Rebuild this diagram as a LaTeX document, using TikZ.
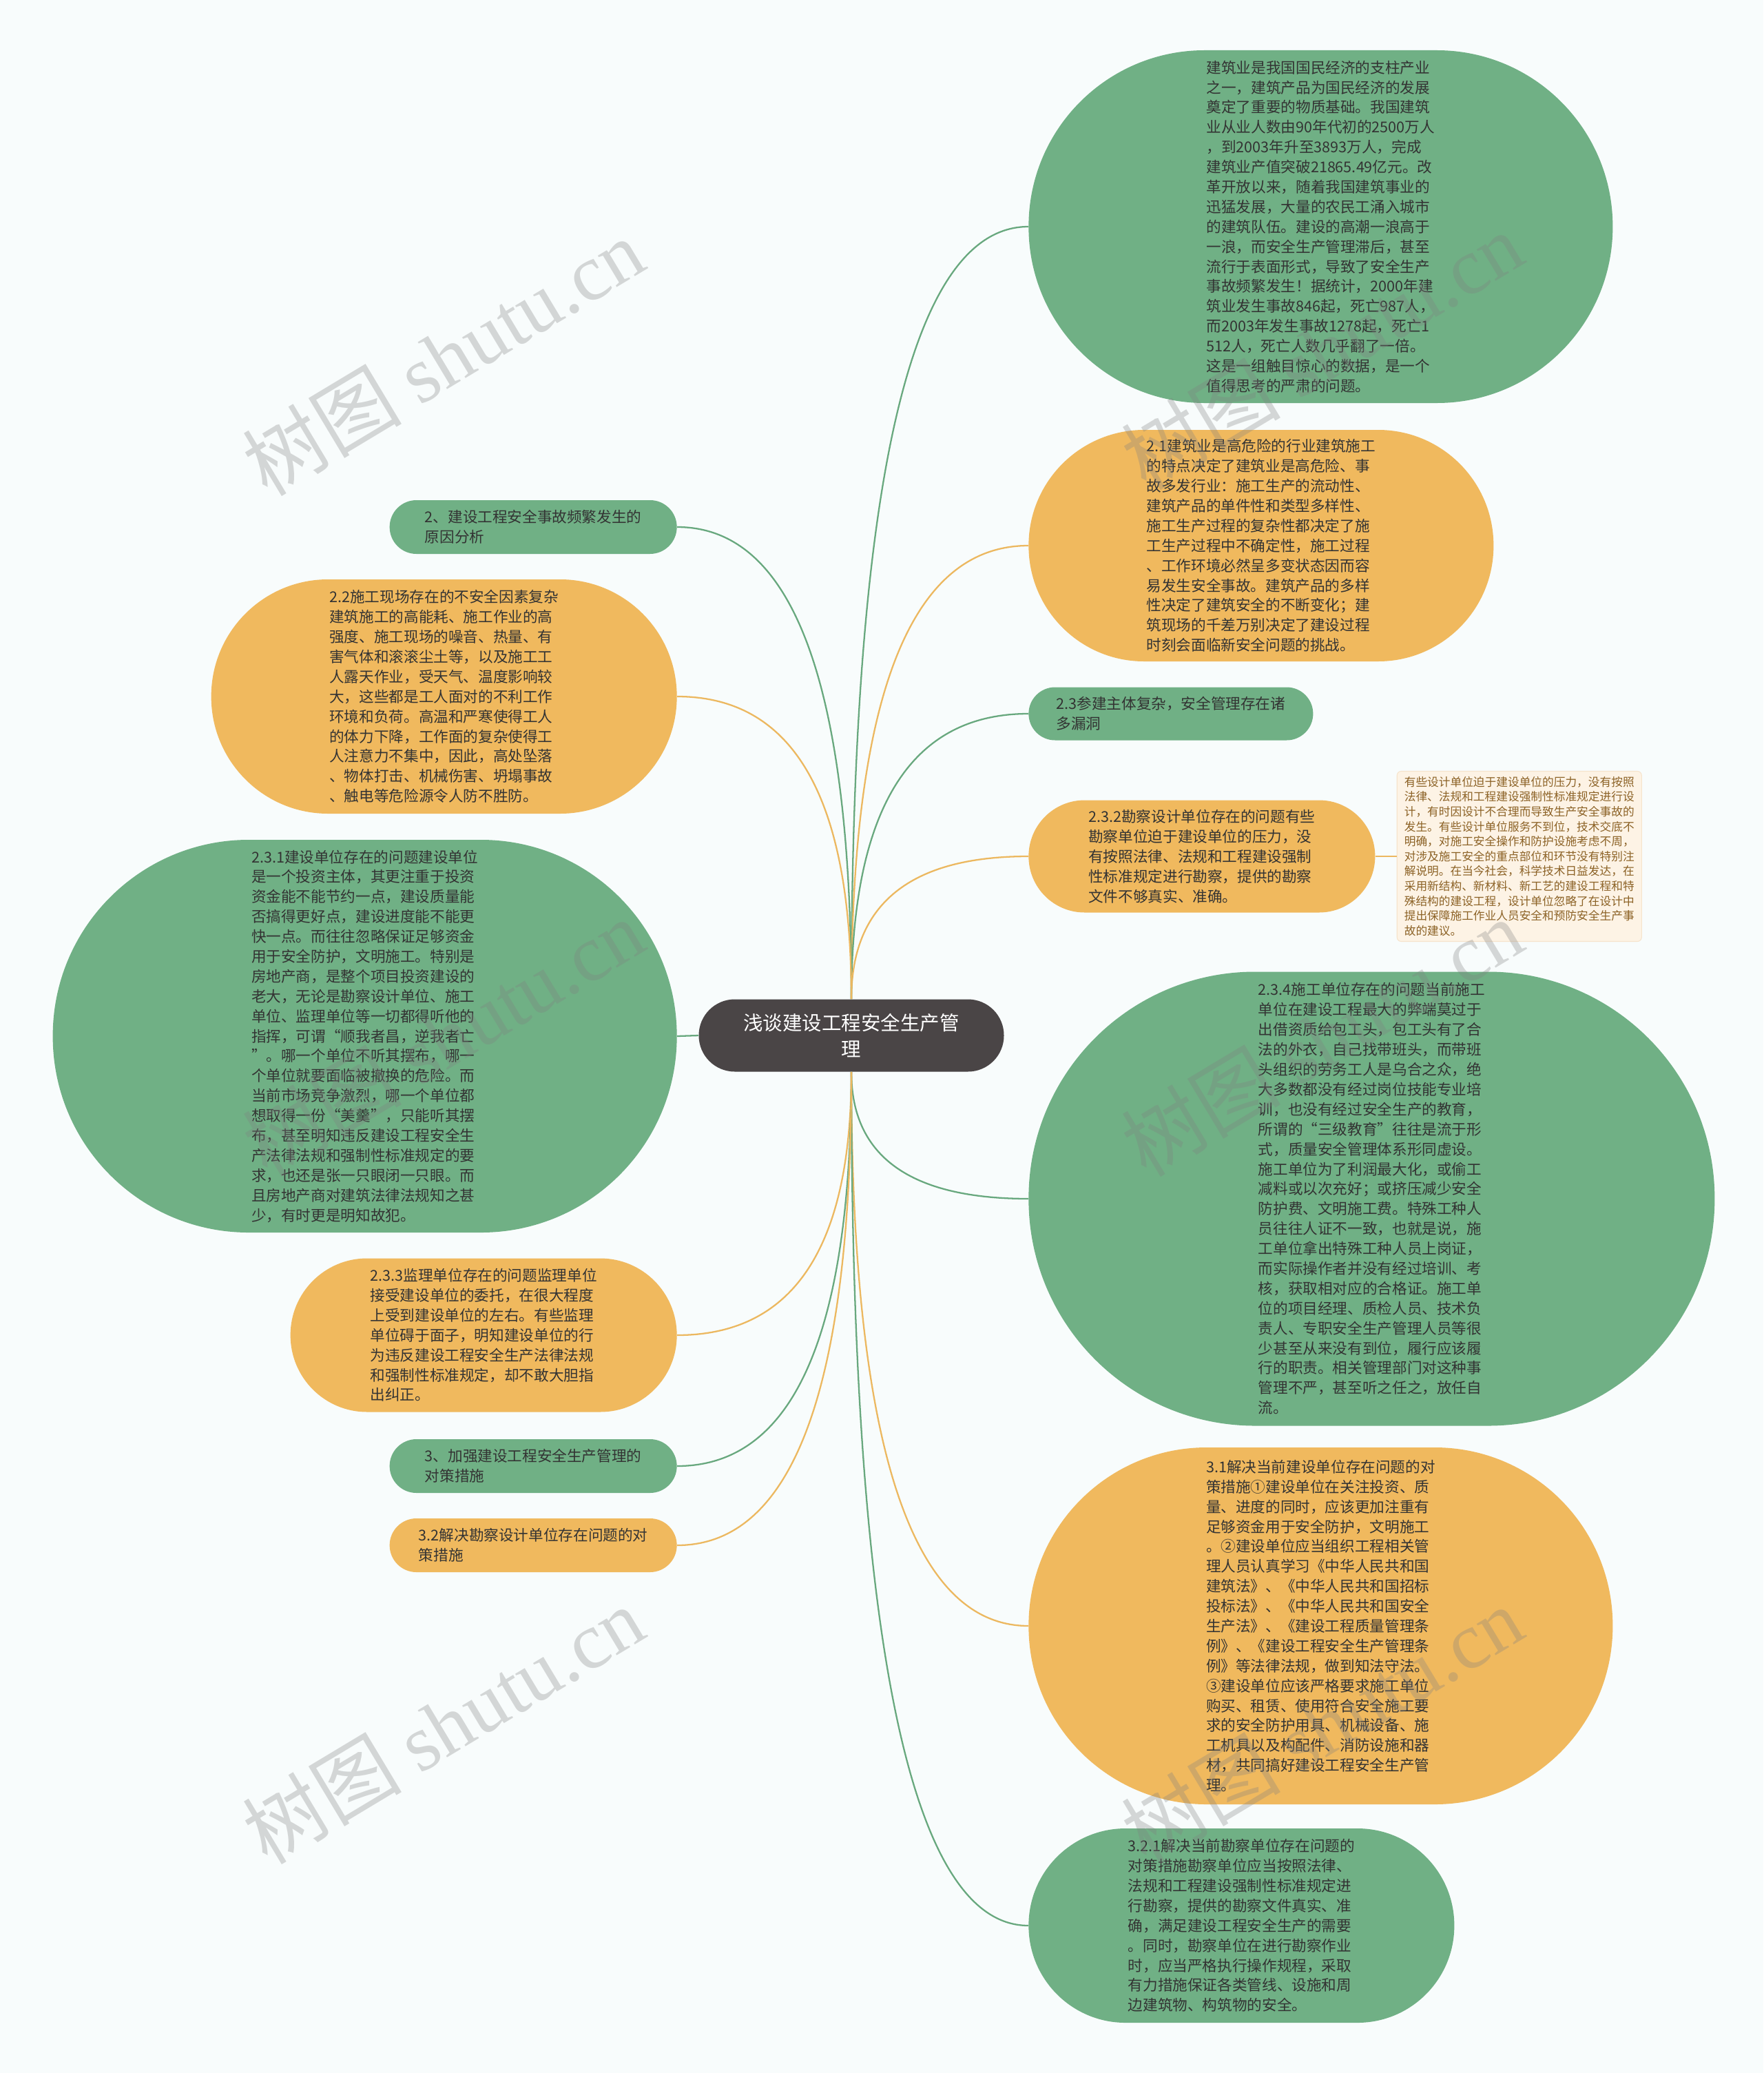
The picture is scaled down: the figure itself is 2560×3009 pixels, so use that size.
\documentclass[tikz,border=0pt]{standalone}
\usepackage{fontspec}
\setmainfont{Noto Sans CJK SC}
\newfontfamily\wmserif{Liberation Serif}
\usepackage{xcolor}
\usetikzlibrary{positioning, calc}

\definecolor{bgcol}{RGB}{248,252,252}
\definecolor{leafgreen}{RGB}{112,176,133}
\definecolor{leaforange}{RGB}{240,185,94}
\definecolor{rootgray}{RGB}{74,69,70}
\definecolor{linegreen}{RGB}{104,168,126}
\definecolor{lineorange}{RGB}{236,184,96}
\definecolor{notefill}{RGB}{253,243,229}
\definecolor{noteline}{RGB}{246,228,204}
\definecolor{notetext}{RGB}{140,98,38}
\definecolor{bodytext}{RGB}{51,51,51}

\begin{document}
\begin{tikzpicture}[
  x=0.2mm, y=-0.2mm,
  bubble/.style 2 args={minimum width=#1, minimum height=#2, rounded corners=0.499*#2,
    inner sep=0pt, align=left, text=bodytext, font=\fontsize{12.3pt}{16.44pt}\selectfont},
  greenbox/.style 2 args={bubble={#1}{#2}, fill=leafgreen},
  orangebox/.style 2 args={bubble={#1}{#2}, fill=leaforange},
  root/.style={fill=rootgray, text=white, minimum width=88.6mm, minimum height=21mm,
    rounded corners=10.45mm, inner sep=0pt, align=center, font=\fontsize{16.2pt}{22.1pt}\selectfont},
  notebox/.style={fill=notefill, draw=noteline, line width=0.6pt, rounded corners=1.2mm,
    minimum width=71mm, minimum height=49.4mm, inner sep=0pt, align=left, text=notetext,
    font=\fontsize{9.5pt}{12.3pt}\selectfont},
  branch/.style={line width=1.3pt, to path={.. controls ($(\tikztostart)!0.667!(\tikztostart |- \tikztotarget)$)
    and ($(\tikztotarget)!0.667!(\tikztostart |- \tikztotarget)$) .. (\tikztotarget)}},
  watermark/.style={rotate=31, text=gray, text opacity=0.3, inner sep=0pt,
    font=\fontsize{66pt}{66pt}\selectfont},
  ]

  \fill[bgcol] (0,0) rectangle (2560,3009);
  \useasboundingbox (0,0) rectangle (2560,3009);

  % Root
  \node[root] (root) at (1236,1503) {浅谈建设工程安全生产管\\理};

  % Right side
  \node[greenbox={169.6mm}{102.4mm}, anchor=west] (intro) at (1493,329) {建筑业是我国国民经济的支柱产业\\
之一，建筑产品为国民经济的发展\\
奠定了重要的物质基础。我国建筑\\
业从业人数由90年代初的2500万人\\
，到2003年升至3893万人，完成\\
建筑业产值突破21865.49亿元。改\\
革开放以来，随着我国建筑事业的\\
迅猛发展，大量的农民工涌入城市\\
的建筑队伍。建设的高潮一浪高于\\
一浪，而安全生产管理滞后，甚至\\
流行于表面形式，导致了安全生产\\
事故频繁发生！据统计，2000年建\\
筑业发生事故846起，死亡987人，\\
而2003年发生事故1278起，死亡1\\
512人，死亡人数几乎翻了一倍。\\
这是一组触目惊心的数据，是一个\\
值得思考的严肃的问题。};

  \node[orangebox={135mm}{67.2mm}, anchor=west] (risk) at (1493,792) {2.1建筑业是高危险的行业建筑施工\\
的特点决定了建筑业是高危险、事\\
故多发行业：施工生产的流动性、\\
建筑产品的单件性和类型多样性、\\
施工生产过程的复杂性都决定了施\\
工生产过程中不确定性，施工过程\\
、工作环境必然呈多变状态因而容\\
易发生安全事故。建筑产品的多样\\
性决定了建筑安全的不断变化；建\\
筑现场的千差万别决定了建设过程\\
时刻会面临新安全问题的挑战。};

  \node[greenbox={82.6mm}{15.4mm}, anchor=west] (parties) at (1493,1036) {2.3参建主体复杂，安全管理存在诸\\多漏洞};

  \node[orangebox={100.6mm}{32.6mm}, anchor=west] (survey) at (1493,1243) {2.3.2勘察设计单位存在的问题有些\\
勘察单位迫于建设单位的压力，没\\
有按照法律、法规和工程建设强制\\
性标准规定进行勘察，提供的勘察\\
文件不够真实、准确。};

  \node[notebox, right=6.2mm of survey] (design) {有些设计单位迫于建设单位的压力，没有按照\\
法律、法规和工程建设强制性标准规定进行设\\
计，有时因设计不合理而导致生产安全事故的\\
发生。有些设计单位服务不到位，技术交底不\\
明确，对施工安全操作和防护设施考虑不周，\\
对涉及施工安全的重点部位和环节没有特别注\\
解说明。在当今社会，科学技术日益发达，在\\
采用新结构、新材料、新工艺的建设工程和特\\
殊结构的建设工程，设计单位忽略了在设计中\\
提出保障施工作业人员安全和预防安全生产事\\
故的建议。};

  \node[greenbox={199.2mm}{131.8mm}, anchor=west] (builder) at (1493,1740) {2.3.4施工单位存在的问题当前施工\\
单位在建设工程最大的弊端莫过于\\
出借资质给包工头，包工头有了合\\
法的外衣，自己找带班头，而带班\\
头组织的劳务工人是乌合之众，绝\\
大多数都没有经过岗位技能专业培\\
训，也没有经过安全生产的教育，\\
所谓的“三级教育”往往是流于形\\
式，质量安全管理体系形同虚设。\\
施工单位为了利润最大化，或偷工\\
减料或以次充好；或挤压减少安全\\
防护费、文明施工费。特殊工种人\\
员往往人证不一致，也就是说，施\\
工单位拿出特殊工种人员上岗证，\\
而实际操作者并没有经过培训、考\\
核，获取相对应的合格证。施工单\\
位的项目经理、质检人员、技术负\\
责人、专职安全生产管理人员等很\\
少甚至从来没有到位，履行应该履\\
行的职责。相关管理部门对这种事\\
管理不严，甚至听之任之，放任自\\
流。};

  \node[orangebox={169.6mm}{103.6mm}, anchor=west] (ownerfix) at (1493,2360) {3.1解决当前建设单位存在问题的对\\
策措施①建设单位在关注投资、质\\
量、进度的同时，应该更加注重有\\
足够资金用于安全防护，文明施工\\
。②建设单位应当组织工程相关管\\
理人员认真学习《中华人民共和国\\
建筑法》、《中华人民共和国招标\\
投标法》、《中华人民共和国安全\\
生产法》、《建设工程质量管理条\\
例》、《建设工程安全生产管理条\\
例》等法律法规，做到知法守法。\\
③建设单位应该严格要求施工单位\\
购买、租赁、使用符合安全施工要\\
求的安全防护用具、机械设备、施\\
工机具以及构配件、消防设施和器\\
材，共同搞好建设工程安全生产管\\
理。};

  \node[greenbox={123.6mm}{56.4mm}, anchor=west] (surveyfix) at (1493,2795) {3.2.1解决当前勘察单位存在问题的\\
对策措施勘察单位应当按照法律、\\
法规和工程建设强制性标准规定进\\
行勘察，提供的勘察文件真实、准\\
确，满足建设工程安全生产的需要\\
。同时，勘察单位在进行勘察作业\\
时，应当严格执行操作规程，采取\\
有力措施保证各类管线、设施和周\\
边建筑物、构筑物的安全。};

  % Left side
  \node[greenbox={83.4mm}{15.6mm}, anchor=east] (causes) at (983,765) {2、建设工程安全事故频繁发生的\\原因分析};

  \node[orangebox={135.2mm}{68mm}, anchor=east] (site) at (983,1011) {2.2施工现场存在的不安全因素复杂\\
建筑施工的高能耗、施工作业的高\\
强度、施工现场的噪音、热量、有\\
害气体和滚滚尘土等，以及施工工\\
人露天作业，受天气、温度影响较\\
大，这些都是工人面对的不利工作\\
环境和负荷。高温和严寒使得工人\\
的体力下降，工作面的复杂使得工\\
人注意力不集中，因此，高处坠落\\
、物体打击、机械伤害、坍塌事故\\
、触电等危险源令人防不胜防。};

  \node[greenbox={181.2mm}{114mm}, anchor=east] (owner) at (983,1504) {2.3.1建设单位存在的问题建设单位\\
是一个投资主体，其更注重于投资\\
资金能不能节约一点，建设质量能\\
否搞得更好点，建设进度能不能更\\
快一点。而往往忽略保证足够资金\\
用于安全防护，文明施工。特别是\\
房地产商，是整个项目投资建设的\\
老大，无论是勘察设计单位、施工\\
单位、监理单位等一切都得听他的\\
指挥，可谓“顺我者昌，逆我者亡\\
”。哪一个单位不听其摆布，哪一\\
个单位就要面临被撤换的危险。而\\
当前市场竞争激烈，哪一个单位都\\
想取得一份“美羹”，只能听其摆\\
布，甚至明知违反建设工程安全生\\
产法律法规和强制性标准规定的要\\
求，也还是张一只眼闭一只眼。而\\
且房地产商对建筑法律法规知之甚\\
少，有时更是明知故犯。};

  \node[orangebox={112.2mm}{44.6mm}, anchor=east] (supervisor) at (983,1938) {2.3.3监理单位存在的问题监理单位\\
接受建设单位的委托，在很大程度\\
上受到建设单位的左右。有些监理\\
单位碍于面子，明知建设单位的行\\
为违反建设工程安全生产法律法规\\
和强制性标准规定，却不敢大胆指\\
出纠正。};

  \node[greenbox={83.4mm}{15.6mm}, anchor=east] (measures) at (983,2128) {3、加强建设工程安全生产管理的\\对策措施};

  \node[orangebox={83.4mm}{15.6mm}, anchor=east] (designfix) at (983,2243) {3.2解决勘察设计单位存在问题的对\\策措施};

  % Branches
  \draw[branch, linegreen] (root.north) to (intro.west);
  \draw[branch, lineorange] (root.north) to (risk.west);
  \draw[branch, linegreen] (root.north) to (parties.west);
  \draw[branch, lineorange] (root.north) to (survey.west);
  \draw[lineorange, line width=1.3pt] (survey.east) -- (design.west);
  \draw[branch, linegreen] (root.south) to (builder.west);
  \draw[branch, lineorange] (root.south) to (ownerfix.west);
  \draw[branch, linegreen] (root.south) to (surveyfix.west);
  \draw[branch, linegreen] (root.north) to (causes.east);
  \draw[branch, lineorange] (root.north) to (site.east);
  \draw[linegreen, line width=1.3pt] (root.west) -- (owner.east);
  \draw[branch, lineorange] (root.south) to (supervisor.east);
  \draw[branch, linegreen] (root.south) to (measures.east);
  \draw[branch, lineorange] (root.south) to (designfix.east);

  % Watermarks
  \foreach \wx/\wy [count=\i] in {643/518, 1919/509, 643/1506, 1919/1506, 643/2504, 1919/2504}
    \node[watermark] (wm\i) at (\wx,\wy) {树图 {\wmserif shutu.cn}};

\end{tikzpicture}
\end{document}
